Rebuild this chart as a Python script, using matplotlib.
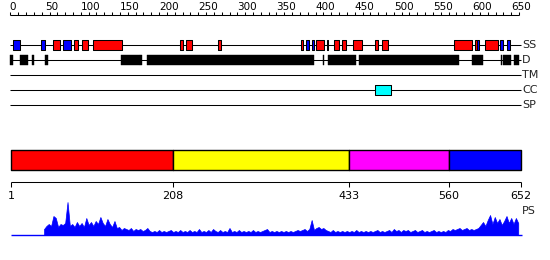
import matplotlib
matplotlib.use("Agg")
import matplotlib.pyplot as plt
import numpy as np

plt.rcParams['font.family'] = ['DejaVu Sans']

seq_len = 652

# secondary structure segments (residues); H = helix (red), E = strand (blue)
ss_start = [3, 39, 54, 67, 81, 91, 105, 217, 225, 265, 371, 378, 386, 390, 404,
            413, 424, 438, 466, 475, 567, 594, 596, 607, 626, 635]
ss_end = [12, 44, 63, 77, 86, 99, 142, 221, 232, 269, 374, 381, 388, 401, 406,
          420, 429, 449, 470, 482, 590, 596, 599, 623, 629, 639]
ss_kind = ['E', 'E', 'H', 'E', 'H', 'H', 'H', 'H', 'H', 'H', 'H', 'E', 'E', 'H', 'E',
           'H', 'H', 'H', 'H', 'H', 'H', 'H', 'E', 'H', 'E', 'E']

# disorder segments
dis_start = [0, 12, 27, 44, 141, 166, 174, 399, 406, 445, 590, 627, 629, 643]
dis_end = [3, 22, 30, 48, 165, 168, 388, 401, 442, 573, 604, 628, 640, 650]

# coiled coil
cc_start = [466]
cc_end = [486]

# domain bar
dom_bounds = [1, 208, 433, 560, 652]
dom_colors = ['#ff0000', '#ffff00', '#ff00ff', '#0000ff']

# PS profile, one value every 3 residues starting at residue 43
ps_first = 43
ps_step = 3
ps_vals = [6, 9, 11, 9, 19, 17, 8, 11, 10, 12,
           33, 9, 11, 8, 13, 9, 12, 8, 17, 10,
           13, 9, 14, 11, 18, 12, 9, 16, 11, 8,
           14, 7, 8, 5, 7, 6, 5, 7, 4, 6,
           5, 6, 4, 5, 7, 4, 3, 4, 3, 5,
           3, 4, 3, 4, 5, 3, 4, 3, 5, 3,
           4, 3, 5, 3, 4, 3, 6, 3, 4, 3,
           5, 3, 6, 4, 3, 5, 3, 4, 3, 7,
           3, 4, 3, 5, 3, 4, 3, 4, 3, 5,
           3, 4, 3, 4, 5, 6, 3, 4, 3, 4,
           3, 4, 3, 4, 3, 4, 3, 4, 5, 4,
           5, 6, 4, 6, 15, 5, 7, 8, 6, 7,
           5, 4, 3, 5, 3, 4, 3, 4, 3, 4,
           3, 4, 3, 5, 3, 4, 3, 4, 3, 4,
           3, 4, 5, 3, 4, 3, 4, 5, 3, 6,
           4, 5, 3, 5, 4, 5, 3, 4, 5, 3,
           4, 5, 3, 4, 3, 4, 5, 3, 4, 3,
           4, 3, 5, 4, 6, 5, 6, 7, 5, 6,
           7, 5, 6, 5, 6, 7, 10, 13, 9, 15,
           20, 11, 18, 12, 16, 10, 14, 19, 12, 17,
           11, 17, 12]

# layout (pixel rows, y grows downward)
px_per_res = 0.7825
x_origin = 10.4
y_ruler = 15
y_ss, y_dis, y_tm, y_cc, y_sp = 45, 60, 75, 90, 105
y_dom = 160
y_axis = 182
y_ps = 235
lw = 0.75

fig = plt.figure(figsize=(5.5, 2.6), dpi=100)
ax = fig.add_axes([0, 0, 1, 1])
ax.set_xlim(-x_origin / px_per_res, (550 - x_origin) / px_per_res)
ax.set_ylim(260, 0)
ax.axis('off')

# ruler
ax.hlines(y_ruler, 0, 650, color='black', lw=lw)
ax.vlines(np.arange(0, 651, 10), y_ruler - 3.5, y_ruler, color='black', lw=lw)
for r in range(0, 651, 50):
    ax.text(r + 2.5, y_ruler - 5, str(r), ha='center', va='baseline', fontsize=7.5)

# tracks
for y, lab in [(y_ss, 'SS'), (y_dis, 'D'), (y_tm, 'TM'), (y_cc, 'CC'), (y_sp, 'SP')]:
    ax.hlines(y, 0, 653, color='black', lw=lw, zorder=1)
    ax.text(654, y, lab, ha='left', va='center', fontsize=8, color='#222222')

ss_col = {'H': '#ff0000', 'E': '#0000ff'}
ax.broken_barh([(s, e - s) for s, e in zip(ss_start, ss_end)], (y_ss - 5, 10),
               facecolors=[ss_col[k] for k in ss_kind], edgecolor='black', lw=lw, zorder=2)
ax.broken_barh([(s, e - s) for s, e in zip(dis_start, dis_end)], (y_dis - 5, 10),
               facecolors='black', edgecolor='black', lw=0.3, zorder=2)
ax.broken_barh([(s, e - s) for s, e in zip(cc_start, cc_end)], (y_cc - 5, 10),
               facecolors='#00ffff', edgecolor='black', lw=lw, zorder=2)

# domain bar
ax.broken_barh([(a, b - a) for a, b in zip(dom_bounds[:-1], dom_bounds[1:])],
               (y_dom - 10, 20), facecolors=dom_colors, edgecolor='black', lw=1)

# position axis
ax.hlines(y_axis, dom_bounds[0], dom_bounds[-1], color='black', lw=lw)
ax.vlines(dom_bounds, y_axis, y_axis + 4.5, color='black', lw=lw)
for b in dom_bounds:
    ax.text(b, y_axis + 14, str(b), ha='center', va='center', fontsize=8)

# PS profile
ps_res = ps_first + ps_step * np.arange(len(ps_vals))
ps_h = np.array(ps_vals, dtype=float)
ax.hlines(y_ps, 1, seq_len + 2, color='#0000ff', lw=1)
ax.fill_between(ps_res, y_ps, y_ps - ps_h, color='#0000ff', lw=0.5)
ax.text(654, y_ps - 24, 'PS', ha='left', va='center', fontsize=8, color='#222222')

fig.savefig('out.png', dpi=100)
